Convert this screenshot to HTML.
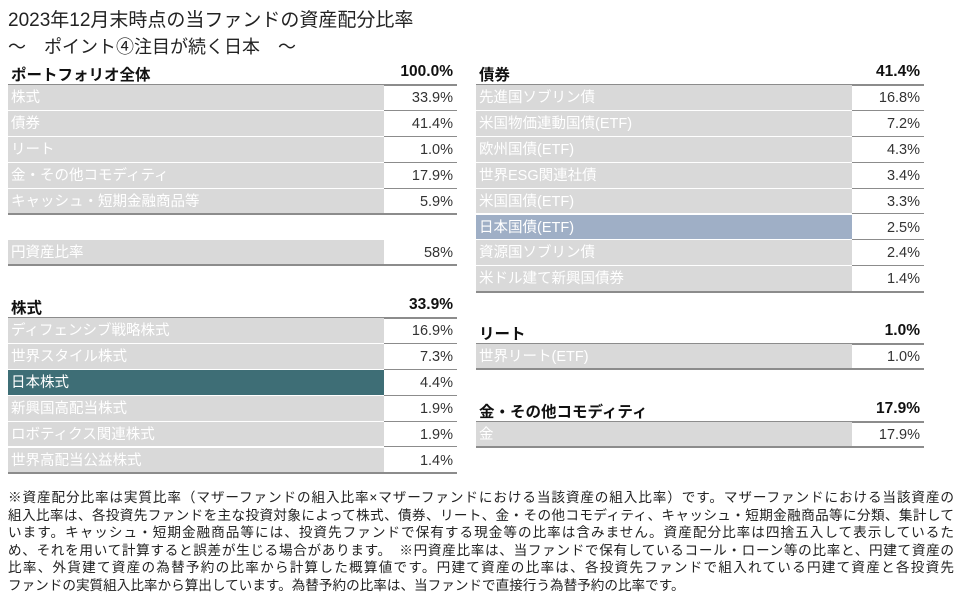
<!DOCTYPE html>
<html><head><meta charset="utf-8">
<style>
body{margin:0;width:972px;height:607px;background:#fff;position:relative;overflow:hidden;font-family:"Liberation Sans","Noto Sans CJK JP",sans-serif;color:#222}
.a{position:absolute;white-space:nowrap}
.t{font-size:19px;left:8px}
.lab{position:absolute;background:#d9d9d9;color:#fff;font-size:14.5px;box-sizing:border-box;padding-left:3px;border-bottom:1px solid #fff}
.val{position:absolute;font-size:14.5px;text-align:right;box-sizing:border-box;padding-right:4px;color:#333;border-bottom:1.5px solid #8c8c8c}
.hdr{position:absolute;font-size:15.5px;font-weight:bold;color:#111;border-bottom:2.5px solid #8c8c8c;box-sizing:border-box}
.note{position:absolute;left:8px;width:946px;font-size:13.6px;color:#222;text-align:justify;text-align-last:justify;white-space:nowrap}
</style></head><body>
<div class="a t" style="top:5px">2023年12月末時点の当ファンドの資産配分比率</div>
<div class="a t" style="top:33px;font-size:18px">～　ポイント④注目が続く日本　～</div>
<div id="tables"></div>
<div id="notes"></div>
<script>
const portfolioLabels=["株式","債券","リート","金・その他コモディティ","キャッシュ・短期金融商品等"];
const portfolioValues=["33.9%","41.4%","1.0%","17.9%","5.9%"];
const yenLabels=["円資産比率"];
const yenValues=["58%"];
const equityLabels=["ディフェンシブ戦略株式","世界スタイル株式","日本株式","新興国高配当株式","ロボティクス関連株式","世界高配当公益株式"];
const equityValues=["16.9%","7.3%","4.4%","1.9%","1.9%","1.4%"];
const bondLabels=["先進国ソブリン債","米国物価連動国債(ETF)","欧州国債(ETF)","世界ESG関連社債","米国国債(ETF)","日本国債(ETF)","資源国ソブリン債","米ドル建て新興国債券"];
const bondValues=["16.8%","7.2%","4.3%","3.4%","3.3%","2.5%","2.4%","1.4%"];
const reitLabels=["世界リート(ETF)"];
const reitValues=["1.0%"];
const commLabels=["金"];
const commValues=["17.9%"];

const root=document.getElementById('tables');
const RH=25.9;
function table(x,w,labW,top,title,total,labels,values,hl,name){
  if(title!==null){
    const h=document.createElement('div');
    h.className='hdr';
    h.style.left=x+'px';h.style.top=(top-24)+'px';h.style.width=w+'px';h.style.height='25px';
    h.innerHTML='<span style="position:absolute;left:3px;top:2px">'+title+'</span><span style="position:absolute;right:4px;top:2px">'+total+'</span>';
    
    
    root.appendChild(h);
  }
  labels.forEach((l,i)=>{
    const y=top+i*RH;
    const d=document.createElement('div');
    d.className='lab';
    d.style.left=x+'px';d.style.top=y+'px';d.style.width=labW+'px';d.style.height=RH+'px';d.style.lineHeight=(RH+1)+'px';
    if(hl[i]){d.style.background=hl[i];}
    d.textContent=l;
    
    
    root.appendChild(d);
    const v=document.createElement('div');
    v.className='val';
    v.style.left=(x+labW)+'px';v.style.top=y+'px';v.style.width=(w-labW)+'px';v.style.height=RH+'px';v.style.lineHeight=(RH+1)+'px';
    v.textContent=values[i];
    
    
    root.appendChild(v);
  });
  const b=document.createElement('div');
  b.style.cssText='position:absolute;left:'+x+'px;top:'+(top+labels.length*RH-1.5)+'px;width:'+w+'px;height:2px;background:#8c8c8c';
  
  
  root.appendChild(b);
}
table(8,449,376,85,"ポートフォリオ全体","100.0%",portfolioLabels,portfolioValues,{},"portfolio");
table(8,449,376,240,null,"",yenLabels,yenValues,{},"yen-ratio");
table(8,449,376,318,"株式","33.9%",equityLabels,equityValues,{2:"#3e6e76"},"equity");
table(476,448,376,85,"債券","41.4%",bondLabels,bondValues,{5:"#9fafc6"},"bond");
table(476,448,376,344,"リート","1.0%",reitLabels,reitValues,{},"reit");
table(476,448,376,422,"金・その他コモディティ","17.9%",commLabels,commValues,{},"commodity");
const notes=["※資産配分比率は実質比率（マザーファンドの組入比率×マザーファンドにおける当該資産の組入比率）です。マザーファンドにおける当該資産の",
"組入比率は、各投資先ファンドを主な投資対象によって株式、債券、リート、金・その他コモディティ、キャッシュ・短期金融商品等に分類、集計して",
"います。キャッシュ・短期金融商品等には、投資先ファンドで保有する現金等の比率は含みません。資産配分比率は四捨五入して表示しているた",
"め、それを用いて計算すると誤差が生じる場合があります。　※円資産比率は、当ファンドで保有しているコール・ローン等の比率と、円建て資産の",
"比率、外貨建て資産の為替予約の比率から計算した概算値です。円建て資産の比率は、各投資先ファンドで組入れている円建て資産と各投資先",
"ファンドの実質組入比率から算出しています。為替予約の比率は、当ファンドで直接行う為替予約の比率です。"];
const nr=document.getElementById('notes');
notes.forEach((t,i)=>{
  const d=document.createElement('div');
  d.className='note';
  d.style.top=(486+i*17.6)+'px';
  if(i===notes.length-1){d.style.textAlignLast='left';d.style.width='auto';}
  d.textContent=t;
  
  
  nr.appendChild(d);
});
</script>
</body></html>
